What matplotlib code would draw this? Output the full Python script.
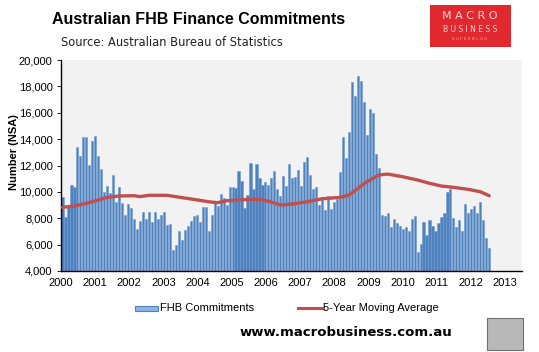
import matplotlib
matplotlib.use("Agg")
import matplotlib.pyplot as plt
from matplotlib.patches import Rectangle
from matplotlib.lines import Line2D
import numpy as np

# ---------------- data ----------------
fhb_commitments = [
    9630, 8120, 8930, 10520, 10350, 13380, 12720, 14140, 14180, 12040, 13860, 14240,
    12720, 11710, 10010, 10440, 9890, 11280, 9250, 10350, 9180, 8250, 9080, 8750,
    7920, 7160, 7810, 8500, 7920, 8500, 7740, 8500, 7970, 8250, 8470, 7490,
    7560, 5590, 5970, 7030, 6350, 7110, 7410, 7810, 8170, 8250, 7720, 8830,
    8830, 7030, 8250, 9130, 8930, 9810, 9510, 9000, 10350, 10350, 10270, 11580,
    10820, 8800, 9760, 12210, 10190, 12110, 11030, 10520, 10770, 10520, 11030, 11610,
    10190, 9690, 11200, 10440, 12110, 11080, 11150, 11660, 10440, 12290, 12640, 11280,
    10240, 10390, 9000, 9630, 8630, 9690, 8730, 9250, 9430, 11510, 14180, 12590,
    14560, 18350, 17290, 18810, 18430, 16840, 14310, 16280, 15960, 12870, 11830, 8250,
    8170, 8370, 7360, 7940, 7620, 7410, 7210, 7360, 7030, 7970, 8170, 5470,
    6050, 7690, 6730, 7870, 7410, 7030, 7640, 8120, 8420, 9990, 10240, 8040,
    7360, 7870, 7030, 9080, 8370, 8700, 8930, 8420, 9230, 7870, 6500, 5720,
]

# moving average read at selected months (1-based month index)
ma_month = [1, 5, 9, 13, 16, 20, 25, 27, 30, 36, 40, 45, 50, 53, 56, 60, 64, 67,
            70, 74, 78, 83, 88, 94, 97, 100, 103, 107, 110, 115, 120, 124, 128,
            132, 137, 141, 144]
ma_value = [8830, 8930, 9130, 9380, 9580, 9690, 9710, 9640, 9740, 9740, 9600, 9430,
            9250, 9180, 9330, 9380, 9430, 9430, 9300, 9000, 9080, 9250, 9480, 9580,
            9760, 10270, 10770, 11280, 11350, 11150, 10900, 10650, 10440, 10345,
            10190, 10010, 9710]

year_labels = [str(y) for y in range(2000, 2014)]

# ---------------- figure ----------------
W, H = 539, 352
fig = plt.figure(figsize=(W / 100, H / 100), dpi=100)
fig.patch.set_facecolor("white")

L, R, T, B = 61, 522, 60, 271
ax = fig.add_axes([L / W, 1 - B / H, (R - L) / W, (B - T) / H])
ax.set_facecolor("#F2F2F2")

x = np.arange(len(fhb_commitments))
ax.bar(x, fhb_commitments, width=0.72, color="#4F81BD", edgecolor="#6F9BD3",
       linewidth=0.4, bottom=0, zorder=2)
ax.plot(np.array(ma_month) - 1, ma_value, color="#C0504D", linewidth=2.4,
        solid_capstyle="round", zorder=3)

ax.set_ylim(4000, 20000)
ax.set_yticks(range(4000, 20001, 2000))
ax.set_yticklabels([f"{v:,}" for v in range(4000, 20001, 2000)],
                   family="Liberation Sans", fontsize=8)
ax.tick_params(axis="y", length=3, width=0.6, pad=3, color="black")

# year labels spaced along the axis
px_per_bar = 2.984
xlo = -(62.5 - L) / px_per_bar
xhi = (R - 62.5) / px_per_bar
ax.set_xlim(xlo, xhi)
year_px = 34.15
ax.set_xticks([xlo + i * year_px / px_per_bar for i in range(len(year_labels))])
ax.set_xticklabels(year_labels, family="Liberation Sans", fontsize=8)
ax.tick_params(axis="x", length=0, pad=5)

for s in ["top", "right"]:
    ax.spines[s].set_visible(False)
ax.spines["left"].set_color("black")
ax.spines["bottom"].set_color("black")
ax.spines["left"].set_linewidth(1.0)
ax.spines["bottom"].set_linewidth(1.0)

fig.text(14 / W, 1 - 152 / H, "Number (NSA)", family="Liberation Sans",
         fontweight="bold", fontsize=8, rotation=90, ha="center", va="center")

# ---------------- titles ----------------
fig.text(52 / W, 1 - 20 / H, "Australian FHB Finance Commitments",
         family="Liberation Sans", fontweight="bold", fontsize=11.5,
         ha="left", va="center")
fig.text(61 / W, 1 - 43 / H, "Source: Australian Bureau of Statistics",
         family="DejaVu Sans", fontsize=8.3, ha="left", va="center", color="#222222")

# ---------------- logo ----------------
fig.patches.append(Rectangle((430 / W, 1 - 47 / H), 81 / W, 42 / H,
                             transform=fig.transFigure, facecolor="#E0282E",
                             edgecolor="none", zorder=5))
fig.text(470 / W, 1 - 16 / H, "M A C R O", family="DejaVu Sans", fontsize=8,
         color="#F6D6D6", ha="center", va="center", zorder=6)
fig.text(470 / W, 1 - 29 / H, "B U S I N E S S", family="DejaVu Sans", fontsize=5.5,
         color="#F6D6D6", ha="center", va="center", zorder=6)
fig.text(470 / W, 1 - 39 / H, "S U P E R B L O G", family="DejaVu Sans", fontsize=3,
         color="#F0A0A0", ha="center", va="center", zorder=6)

# ---------------- legend ----------------
fig.patches.append(Rectangle((135 / W, 1 - 311 / H), 23 / W, 5 / H,
                             transform=fig.transFigure, facecolor="#8DB3E2",
                             edgecolor="#4F81BD", linewidth=0.8))
fig.text(160 / W, 1 - 308 / H, "FHB Commitments", family="Liberation Sans",
         fontsize=8, ha="left", va="center")
fig.lines.append(Line2D([298 / W, 323 / W], [1 - 308 / H, 1 - 308 / H],
                        transform=fig.transFigure, color="#C0504D", linewidth=2.2))
fig.text(323 / W, 1 - 308 / H, "5-Year Moving Average", family="Liberation Sans",
         fontsize=8, ha="left", va="center")

# ---------------- footer ----------------
fig.text(346 / W, 1 - 333 / H, "www.macrobusiness.com.au", family="DejaVu Sans",
         fontweight="bold", fontsize=9.5, ha="center", va="center")
fig.patches.append(Rectangle((487 / W, 1 - 350 / H), 36 / W, 32 / H,
                             transform=fig.transFigure, facecolor="#B8B8B8",
                             edgecolor="#707070", linewidth=0.8))

fig.savefig("out.png", dpi=100, facecolor="white")
